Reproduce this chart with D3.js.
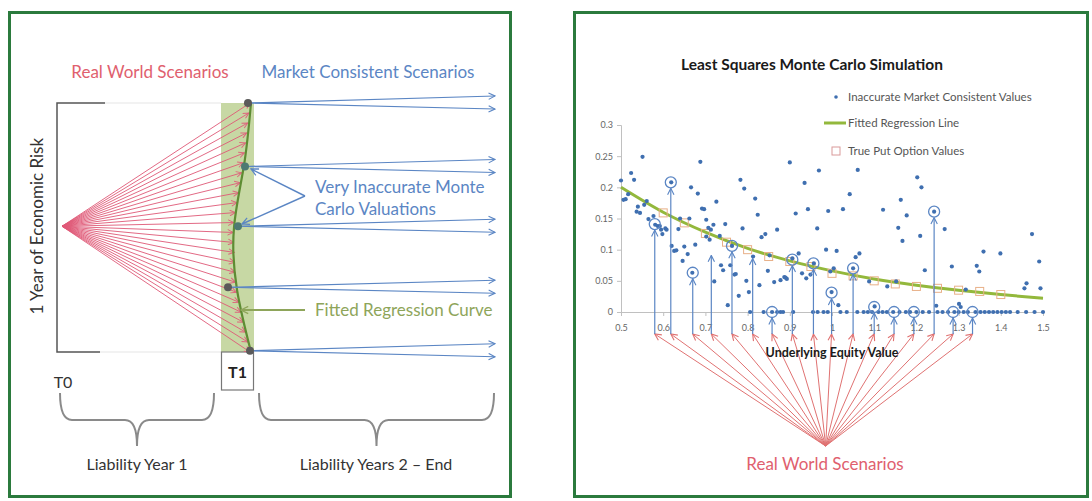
<!DOCTYPE html>
<html><head><meta charset="utf-8">
<script src="https://cdn.jsdelivr.net/npm/d3@7"></script>
<style>
body{margin:0;background:#fff;}
svg{display:block;font-family:Lato,"Open Sans",sans-serif;}
</style>
</head><body>
<svg id="c" width="1092" height="501"></svg>
<script>
// ---------------- DATA ----------------
const xTicks = [0.5,0.6,0.7,0.8,0.9,1,1.1,1.2,1.3,1.4,1.5];
const yTicks = [0,0.05,0.1,0.15,0.2,0.25,0.3];
// Inaccurate market consistent values (scatter)
const mcX = [0.500,0.551,0.524,0.531,0.506,0.511,0.517,0.540,0.537,0.545,0.561,0.555,0.565,0.577,0.581,0.587,0.592,0.595,0.598,0.605,
 0.608,0.619,0.620,0.626,0.631,0.640,0.636,0.646,0.650,0.658,0.662,0.666,0.669,0.676,0.682,0.688,0.692,0.697,0.702,0.702,
 0.713,0.719,0.721,0.710,0.726,0.707,0.734,0.747,0.737,0.742,0.753,0.759,0.763,0.769,0.772,0.779,0.783,0.792,0.788,0.797,
 0.803,0.818,0.824,0.813,0.828,0.833,0.842,0.848,0.852,0.863,0.870,0.878,0.887,0.890,0.893,0.900,0.906,0.914,0.921,0.935,
 0.943,0.929,0.939,0.949,0.957,0.965,0.969,0.991,1.026,1.061,1.042,0.986,1.011,0.999,1.015,0.996,1.004,1.050,1.056,1.065,
 1.088,1.101,1.121,1.131,1.152,1.163,1.177,1.157,1.167,1.202,1.212,1.209,1.242,1.267,1.284,1.220,1.317,1.343,1.349,1.359,
 1.399,1.474,1.491,1.461,1.456,1.494,1.247,1.301,1.305,
 0.806,0.838,0.858,0.870,0.878,0.884,0.908,0.955,0.966,0.980,0.990,1.020,1.035,1.060,1.075,1.085,1.095,1.110,1.120,1.130,
 1.145,1.160,1.175,1.185,1.200,1.215,1.230,1.250,1.262,1.275,1.290,1.300,1.312,1.322,1.340,1.352,1.362,1.372,1.382,1.392,
 1.402,1.412,1.422,1.440,1.460,1.480,1.500];
const mcY = [0.211,0.249,0.223,0.212,0.180,0.181,0.189,0.169,0.161,0.159,0.178,0.172,0.149,0.154,0.140,0.138,0.138,0.132,0.125,0.134,
 0.132,0.208,0.106,0.098,0.099,0.150,0.133,0.082,0.105,0.093,0.150,0.200,0.063,0.108,0.190,0.241,0.166,0.165,0.148,0.121,
 0.132,0.140,0.049,0.116,0.177,0.135,0.122,0.141,0.075,0.067,0.011,0.075,0.106,0.060,0.061,0.026,0.212,0.198,0.134,0.050,
 0.032,0.182,0.156,0.089,0.043,0.120,0.125,0.066,0.091,0.048,0.132,0.051,0.056,0.055,0.053,0.240,0.086,0.158,0.094,0.207,
 0.165,0.062,0.054,0.060,0.078,0.134,0.227,0.162,0.165,0.228,0.189,0.100,0.098,0.032,0.011,0.065,0.070,0.070,0.088,0.094,
 0.049,0.009,0.164,0.041,0.049,0.180,0.155,0.135,0.114,0.216,0.200,0.122,0.161,0.133,0.073,0.067,0.036,0.074,0.065,0.097,
 0.094,0.125,0.081,0.046,0.038,0.038,0.010,0.013,0.008,
 0,0,0,0,0,0,0,0,0,0,0,0,0,0,0,0,0,0,0,0,
 0,0,0,0,0,0,0,0,0,0,0,0,0,0,0,0,0,0,0,0,
 0,0,0,0,0,0,0];
// Fitted regression line
const fitX = [0.5,0.6,0.7,0.8,0.9,1.0,1.1,1.2,1.3,1.4,1.5];
const fitY = [0.200,0.160,0.128,0.102,0.082,0.066,0.053,0.043,0.035,0.028,0.022];
// True put option values
const trueX = [0.6,0.65,0.7,0.75,0.8,0.85,0.9,0.95,1.0,1.05,1.1,1.15,1.2,1.25,1.3,1.35,1.4];
const trueY = [0.159,0.143,0.126,0.112,0.100,0.089,0.081,0.073,0.062,0.058,0.050,0.045,0.041,0.038,0.035,0.033,0.028];
// Sampled real-world scenarios (blue arrows) and whether the value is circled
const sampleX = [0.580,0.618,0.670,0.714,0.763,0.812,0.858,0.906,0.956,0.999,1.050,1.100,1.147,1.194,1.242,1.287,1.333];
const sampleY = [0.141,0.208,0.063,0.094,0.106,0.089,0.0,0.084,0.078,0.031,0.070,0.008,0.0,0.0,0.161,0.0,0.0];
const sampleCircled = [1,1,1,0,1,0,1,1,1,1,1,1,1,1,1,1,1];
const legendLabels = ["Inaccurate Market Consistent Values","Fitted Regression Line","True Put Option Values"];
// Left diagram
const fanLevels = [0,0.04,0.08,0.12,0.16,0.2,0.24,0.28,0.32,0.36,0.4,0.44,0.48,0.52,0.56,0.6,0.64,0.68,0.72,0.76,0.8,0.84,0.88,0.92,0.96,1];
const curveLevels = [0,0.25,0.5,0.75,1];
const nodeLevels = [0,0.255,0.495,0.74,0.995];
const leftTexts = {rw:"Real World Scenarios", mc:"Market Consistent Scenarios", risk:"1 Year of Economic Risk",
  inacc:["Very Inaccurate Monte","Carlo Valuations"], fit:"Fitted Regression Curve", t0:"T0", t1:"T1",
  y1:"Liability Year 1", y2:"Liability Years 2 \u2013 End"};

// ---------------- DRAW ----------------
const svg = d3.select("#c");
const defs = svg.append("defs");
function marker(id, color, size){
  defs.append("marker").attr("id",id).attr("viewBox","0 0 10 10").attr("refX",9).attr("refY",5)
    .attr("markerWidth",size).attr("markerHeight",size).attr("orient","auto").attr("markerUnits","userSpaceOnUse")
    .append("path").attr("d","M1,1 L9,5 L1,9").attr("fill","none").attr("stroke",color).attr("stroke-width",1.4);
}
const BLUE="#5b86c4", RED="#e05a78", RED2="#e07272", OLIVE="#8ea55a";
marker("ab", BLUE, 8); marker("ar", RED, 7); marker("ar2", RED2, 8); marker("ao", OLIVE, 9); marker("ab2", BLUE, 9);

// panels
const GREEN="#2b7a3d";
svg.append("rect").attr("x",9.5).attr("y",12.5).attr("width",501).attr("height",484).attr("fill","none").attr("stroke",GREEN).attr("stroke-width",3);
svg.append("rect").attr("x",574.5).attr("y",12.5).attr("width",513).attr("height",484).attr("fill","none").attr("stroke",GREEN).attr("stroke-width",3);

// ===== LEFT =====
const gl = svg.append("g");
const yRisk = d3.scaleLinear().domain([0,1]).range([103,352]);
const curveX = d3.scaleLinear().domain(curveLevels).range([251,244,234,237,251]);
const originX = 62, originY = yRisk(0.495);

gl.append("text").attr("x",150).attr("y",78).attr("text-anchor","middle").attr("fill","#e0606e").attr("font-size",17).text(leftTexts.rw);
gl.append("text").attr("x",368).attr("y",78).attr("text-anchor","middle").attr("fill",BLUE).attr("font-size",17).text(leftTexts.mc);

// bracket
gl.append("path").attr("d",`M105,${yRisk(0)}H57V${yRisk(1)}H100`).attr("fill","none").attr("stroke","#555").attr("stroke-width",1.5);
gl.append("path").attr("d",`M105,${yRisk(0)}H221M100,${yRisk(1)}H221`).attr("stroke","#e6e6e6").attr("stroke-width",1.2);
gl.append("text").attr("transform",`translate(43,${originY}) rotate(-90)`).attr("text-anchor","middle").attr("fill","#333").attr("font-size",17).text(leftTexts.risk);

// band
gl.append("rect").attr("x",221).attr("y",yRisk(0)).attr("width",33).attr("height",yRisk(1)-yRisk(0)).attr("fill","#c7d8a4");
gl.append("rect").attr("x",221.5).attr("y",yRisk(1)).attr("width",32).attr("height",38).attr("fill","#fff").attr("stroke","#777").attr("stroke-width",1.2);
gl.append("text").attr("x",237.5).attr("y",378).attr("text-anchor","middle").attr("fill","#222").attr("font-size",16).attr("font-weight","bold").text(leftTexts.t1);
gl.append("text").attr("x",63).attr("y",388).attr("text-anchor","middle").attr("fill","#333").attr("font-size",16).text(leftTexts.t0);

// fan lines
gl.selectAll("line.fan").data(fanLevels).join("line").attr("class","fan")
  .attr("x1",originX).attr("y1",originY).attr("x2",d=>curveX(d)-1).attr("y2",d=>yRisk(d))
  .attr("stroke",RED).attr("stroke-width",1).attr("opacity",0.9).attr("marker-end","url(#ar)");

// fitted curve
gl.append("path").datum(curveLevels).attr("d",d3.line().x(d=>curveX(d)).y(d=>yRisk(d)).curve(d3.curveNatural))
  .attr("fill","none").attr("stroke","#5e8c33").attr("stroke-width",2.2);

// MC nodes and arrows
const nodeX = [248,245,238,228,250];
const nodeCol = ["#5a5a5a","#4d7a72","#4d7a72","#5a5a5a","#5a5a5a"];
nodeLevels.forEach((r,i)=>{
  const y = yRisk(r);
  [-7,6].forEach(o=>{
    gl.append("line").attr("x1",nodeX[i]).attr("y1",y).attr("x2",495).attr("y2",y+o)
      .attr("stroke",BLUE).attr("stroke-width",1.2).attr("marker-end","url(#ab)");
  });
  gl.append("circle").attr("cx",nodeX[i]).attr("cy",y).attr("r",4).attr("fill",nodeCol[i]);
});

// inaccurate annotation
gl.append("text").attr("x",315).attr("y",193).attr("fill",BLUE).attr("font-size",17).text(leftTexts.inacc[0]);
gl.append("text").attr("x",315).attr("y",215).attr("fill",BLUE).attr("font-size",17).text(leftTexts.inacc[1]);
gl.append("line").attr("x1",305).attr("y1",196).attr("x2",251).attr("y2",169).attr("stroke",BLUE).attr("stroke-width",1.4).attr("marker-end","url(#ab2)");
gl.append("line").attr("x1",305).attr("y1",196).attr("x2",242).attr("y2",224).attr("stroke",BLUE).attr("stroke-width",1.4).attr("marker-end","url(#ab2)");

// fitted curve annotation
gl.append("line").attr("x1",305).attr("y1",310).attr("x2",241).attr("y2",310).attr("stroke",OLIVE).attr("stroke-width",1.8).attr("marker-end","url(#ao)");
gl.append("text").attr("x",315).attr("y",316).attr("fill",OLIVE).attr("font-size",17).text(leftTexts.fit);

// braces
function brace(xa,xb){
  const y0=393,y1=420,y2=446,r=12,xm=(xa+xb)/2;
  return `M${xa},${y0}Q${xa},${y1} ${xa+r},${y1}L${xm-r},${y1}Q${xm},${y1} ${xm},${y2}`+
         `M${xb},${y0}Q${xb},${y1} ${xb-r},${y1}L${xm+r},${y1}Q${xm},${y1} ${xm},${y2}`;
}
gl.append("path").attr("d",brace(60,214)).attr("fill","none").attr("stroke","#8a8a8a").attr("stroke-width",2);
gl.append("path").attr("d",brace(259,494)).attr("fill","none").attr("stroke","#8a8a8a").attr("stroke-width",2);
gl.append("text").attr("x",137).attr("y",470).attr("text-anchor","middle").attr("fill","#333").attr("font-size",16).text(leftTexts.y1);
gl.append("text").attr("x",376).attr("y",470).attr("text-anchor","middle").attr("fill","#333").attr("font-size",16).text(leftTexts.y2);

// ===== RIGHT =====
const gr = svg.append("g");
const x = d3.scaleLinear().domain([0.5,1.5]).range([621,1043]);
const y = d3.scaleLinear().domain([0,0.3]).range([312,125]);

gr.append("text").attr("x",812).attr("y",70).attr("text-anchor","middle").attr("font-weight","bold").attr("font-size",15.5).attr("fill","#1a1a1a")
  .text("Least Squares Monte Carlo Simulation");

// axes
const ya = gr.append("g").attr("transform",`translate(${x(0.5)},0)`).call(d3.axisLeft(y).tickValues(yTicks).tickSize(4).tickPadding(4).tickFormat(d=>d));
const xa = gr.append("g").attr("transform",`translate(0,${y(0)})`).call(d3.axisBottom(x).tickValues(xTicks).tickSize(4).tickPadding(9).tickFormat(d=>d));
[ya,xa].forEach(a=>{
  a.select(".domain").attr("stroke","#c0c0c0");
  a.selectAll(".tick line").attr("stroke","#c0c0c0");
  a.selectAll("text").attr("fill","#666").attr("font-size",9).attr("font-family","Lato, sans-serif");
});

// fitted line
gr.append("path").datum(fitX.map((v,i)=>[v,fitY[i]]))
  .attr("d",d3.line().x(d=>x(d[0])).y(d=>y(d[1])).curve(d3.curveMonotoneX))
  .attr("fill","none").attr("stroke","#93b83c").attr("stroke-width",3);

// true values squares
gr.selectAll("rect.tv").data(trueX).join("rect").attr("class","tv")
  .attr("x",(d)=>x(d)-4).attr("y",(d,i)=>y(trueY[i])-4).attr("width",8).attr("height",8)
  .attr("fill","none").attr("stroke","#e8b088").attr("stroke-width",1);

// scatter
gr.selectAll("circle.mc").data(mcX).join("circle").attr("class","mc")
  .attr("cx",d=>x(d)).attr("cy",(d,i)=>y(mcY[i])).attr("r",2.1).attr("fill","#3f6fb0");

// red fan to sample points
const fanOrigin = [x(0.985), 446];
const baseY = 334;
gr.selectAll("line.rf").data(sampleX).join("line").attr("class","rf")
  .attr("x1",fanOrigin[0]).attr("y1",fanOrigin[1]).attr("x2",d=>x(d)).attr("y2",baseY)
  .attr("stroke",RED2).attr("stroke-width",1).attr("marker-end","url(#ar2)");

// blue vertical arrows and circles
sampleX.forEach((sx,i)=>{
  const cy = y(sampleY[i]);
  const top = sampleCircled[i] ? cy+6 : cy+2;
  gr.append("line").attr("x1",x(sx)).attr("y1",baseY).attr("x2",x(sx)).attr("y2",top)
    .attr("stroke",BLUE).attr("stroke-width",1.2).attr("marker-end","url(#ab)");
  if(sampleCircled[i]) gr.append("circle").attr("cx",x(sx)).attr("cy",cy).attr("r",5.5).attr("fill","none").attr("stroke",BLUE).attr("stroke-width",1.3);
});

gr.append("text").attr("x",832).attr("y",357).attr("text-anchor","middle").attr("font-weight","bold").attr("font-size",12.5).attr("fill","#1a1a1a")
  .text("Underlying Equity Value");
gr.append("text").attr("x",825).attr("y",470).attr("text-anchor","middle").attr("font-size",17).attr("fill","#e0606e")
  .text("Real World Scenarios");

// legend
const lg = gr.append("g").attr("font-size",11.5).attr("fill","#555");
lg.append("circle").attr("cx",836).attr("cy",97).attr("r",1.8).attr("fill","#3f6fb0");
lg.append("line").attr("x1",824).attr("x2",846).attr("y1",123).attr("y2",123).attr("stroke","#93b83c").attr("stroke-width",3);
lg.append("rect").attr("x",832).attr("y",147).attr("width",8).attr("height",8).attr("fill","none").attr("stroke","#d99a9a");
[101,127,155].forEach((yy,i)=>lg.append("text").attr("x",848).attr("y",yy).text(legendLabels[i]));
</script>
</body></html>
